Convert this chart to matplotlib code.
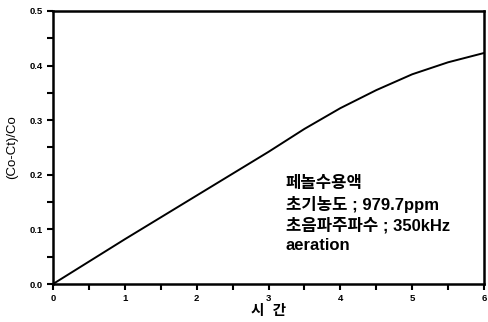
import matplotlib
matplotlib.use("Agg")
import matplotlib.pyplot as plt
from matplotlib.ticker import MultipleLocator

plt.rcParams['font.family'] = ['Liberation Sans', 'Noto Sans CJK KR', 'DejaVu Sans']

# data
time_h = [0, 0.5, 1, 1.5, 2, 2.5, 3, 3.5, 4, 4.5, 5, 5.5, 6]
removal = [0, 0.041, 0.082, 0.122, 0.162, 0.202, 0.242, 0.284, 0.322, 0.355, 0.384, 0.406, 0.423]

note_lines = ["페놀수용액", "초기농도 ; 979.7ppm", "초음파주파수 ; 350kHz", "aeration"]

fig = plt.figure(figsize=(4.89, 3.22), dpi=100)
ax = fig.add_axes([0.1084, 0.118, 0.8814, 0.848])

ax.plot(time_h, removal, "k-", lw=1.4)

ax.set_xlim(0, 6)
ax.set_ylim(0, 0.5)
ax.xaxis.set_major_locator(MultipleLocator(1))
ax.xaxis.set_minor_locator(MultipleLocator(0.5))
ax.yaxis.set_major_locator(MultipleLocator(0.1))
ax.yaxis.set_minor_locator(MultipleLocator(0.05))
ax.set_yticklabels([f"{v:.1f}" for v in ax.get_yticks()])
ax.tick_params(which="both", direction="out", width=1.5, length=4, labelsize=6.8)
ax.tick_params(axis="x", pad=3)
for lab in ax.get_xticklabels() + ax.get_yticklabels():
    lab.set_fontweight("bold")
for s in ax.spines.values():
    s.set_linewidth(1.8)

ax.set_ylabel("(Co-Ct)/Co", fontsize=9.5, labelpad=8)
ax.set_xlabel("시  간", fontsize=10.5, fontweight="bold", labelpad=1)

ax.text(0.54, 0.395, "\n".join(note_lines), transform=ax.transAxes,
        fontsize=12, fontweight="bold", va="top", ha="left", linespacing=1.33)

fig.savefig("out.png", dpi=100)
